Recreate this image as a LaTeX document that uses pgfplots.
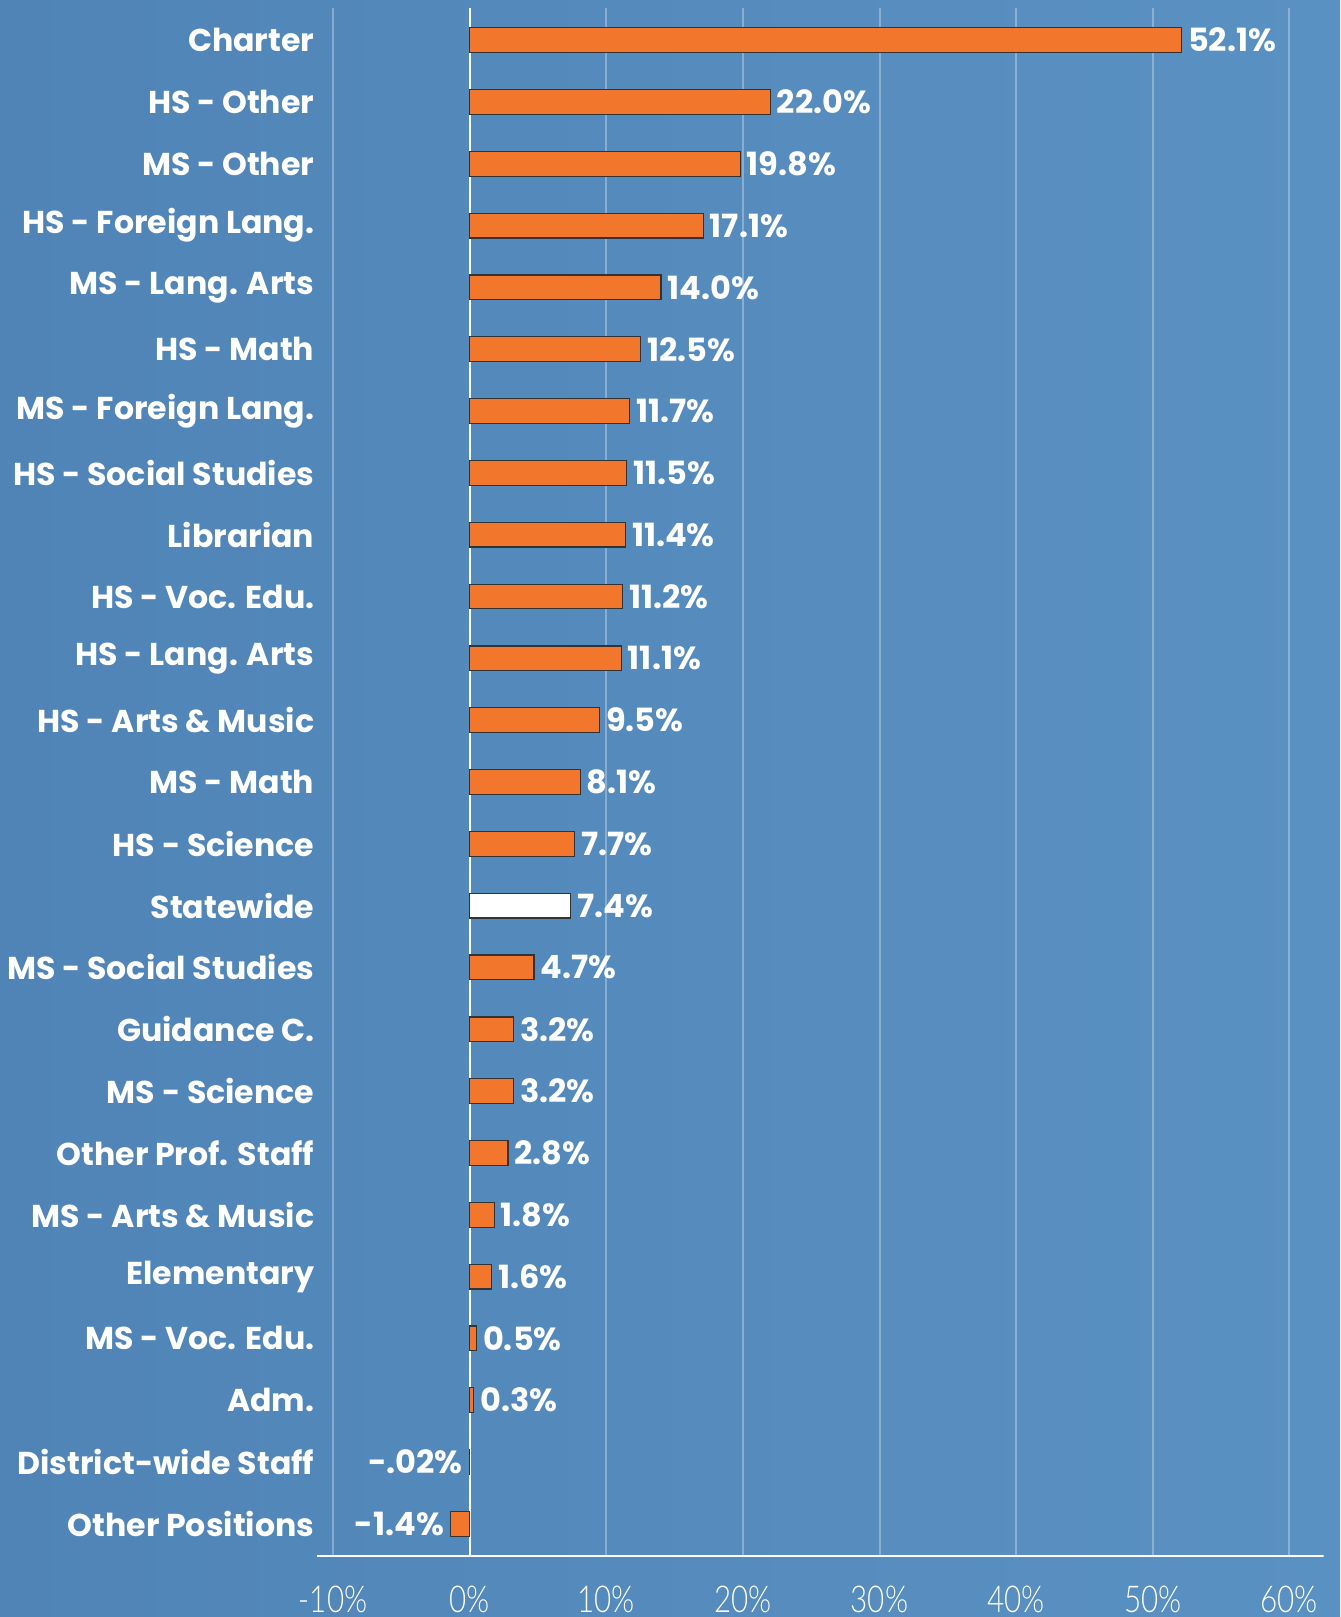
\documentclass[border=0pt]{standalone}
\usepackage{pgfplots}
\pgfplotsset{compat=1.18}
\usepackage{pgfplotstable}
\usepackage{fontspec}
\setmainfont{Poppins}
\newfontfamily\tickfont{Lato Light}[FakeStretch=0.8]
\definecolor{bgblue}{RGB}{90,145,195}
\definecolor{bgdark}{RGB}{80,132,182}
\definecolor{barorange}{RGB}{242,118,44}
\pgfplotstableread{
y x
24 52.1
23 22.0
22 19.8
21 17.1
20 14.0
19 12.5
18 11.7
17 11.5
16 11.4
15 11.2
14 11.1
13 9.5
12 8.1
11 7.7
9 4.7
8 3.2
7 3.2
6 2.8
5 1.8
4 1.6
3 0.5
2 0.3
0 -1.4
}\orangedata
\pgfplotstableread{
y x
1 -0.02
}\districtdata
\pgfplotstableread{
y x
10 7.4
}\statedata
\begin{document}
\begin{tikzpicture}
\shade[left color=bgdark, right color=bgblue] (-158.35pt,-30.5pt) rectangle (511.65pt,778pt);
\begin{axis}[
  at={(0,0)}, anchor=south west,
  scale only axis, width=503.4pt, height=774pt,
  xmin=-11.2, xmax=62.5, ymin=-0.52, ymax=24.52,
  xbar, bar width=0.4, bar shift=0pt,
  axis line style={draw=none},
  major tick length=0pt,
  tick style={draw=none},
  xtick={-10,0,10,20,30,40,50,60},
  xticklabels={-10\%,0\%,10\%,20\%,30\%,40\%,50\%,60\%},
  xticklabel style={font=\tickfont\fontsize{18.5}{18.5}\selectfont, text=white, anchor=center, yshift=-21.5pt},
  ytick={0,...,24},
  yticklabels={Other Positions, District-wide Staff, Adm., MS - Voc. Edu., Elementary, MS - Arts \& Music, Other Prof. Staff, MS - Science, Guidance C., MS - Social Studies, Statewide, HS - Science, MS - Math, HS - Arts \& Music, HS - Lang. Arts, HS - Voc. Edu., Librarian, HS - Social Studies, MS - Foreign Lang., HS - Math, MS - Lang. Arts, HS - Foreign Lang., MS - Other, HS - Other, Charter},
  yticklabel style={font=\bfseries\fontsize{15.8}{15.8}\selectfont, text=white, anchor=east, inner sep=0pt, xshift=-1pt},
  xmajorgrids, grid style={white, opacity=0.3, line width=1pt},
  /pgf/number format/assume math mode=true,
  every node near coord/.append style={font=\bfseries\fontsize{16}{16}\selectfont, text=white, inner sep=3pt},
]
\draw[white, line width=1.2pt] (axis cs:0,-0.52) -- (axis cs:0,24.52);
\addplot[draw=black!80, line width=0.6pt, fill=barorange,
  point meta=x, nodes near coords={\pgfmathprintnumber[fixed, fixed zerofill, precision=1]{\pgfplotspointmeta}\%},
  nodes near coords align=horizontal] table[x=x, y=y] {\orangedata};
\addplot[draw=black!80, line width=0.6pt, fill=barorange,
  point meta=x, nodes near coords={-.02\%},
  nodes near coords align=horizontal] table[x=x, y=y] {\districtdata};
\addplot[draw=black!80, line width=0.6pt, fill=white,
  point meta=x, nodes near coords={\pgfmathprintnumber[fixed, fixed zerofill, precision=1]{\pgfplotspointmeta}\%},
  nodes near coords align=horizontal] table[x=x, y=y] {\statedata};
\draw[white, line width=1.5pt] (rel axis cs:0,0) -- (rel axis cs:1,0);
\end{axis}
\pgfresetboundingbox
\path[use as bounding box] (-158.35pt,-30.5pt) rectangle (511.65pt,778pt);
\end{tikzpicture}
\end{document}
